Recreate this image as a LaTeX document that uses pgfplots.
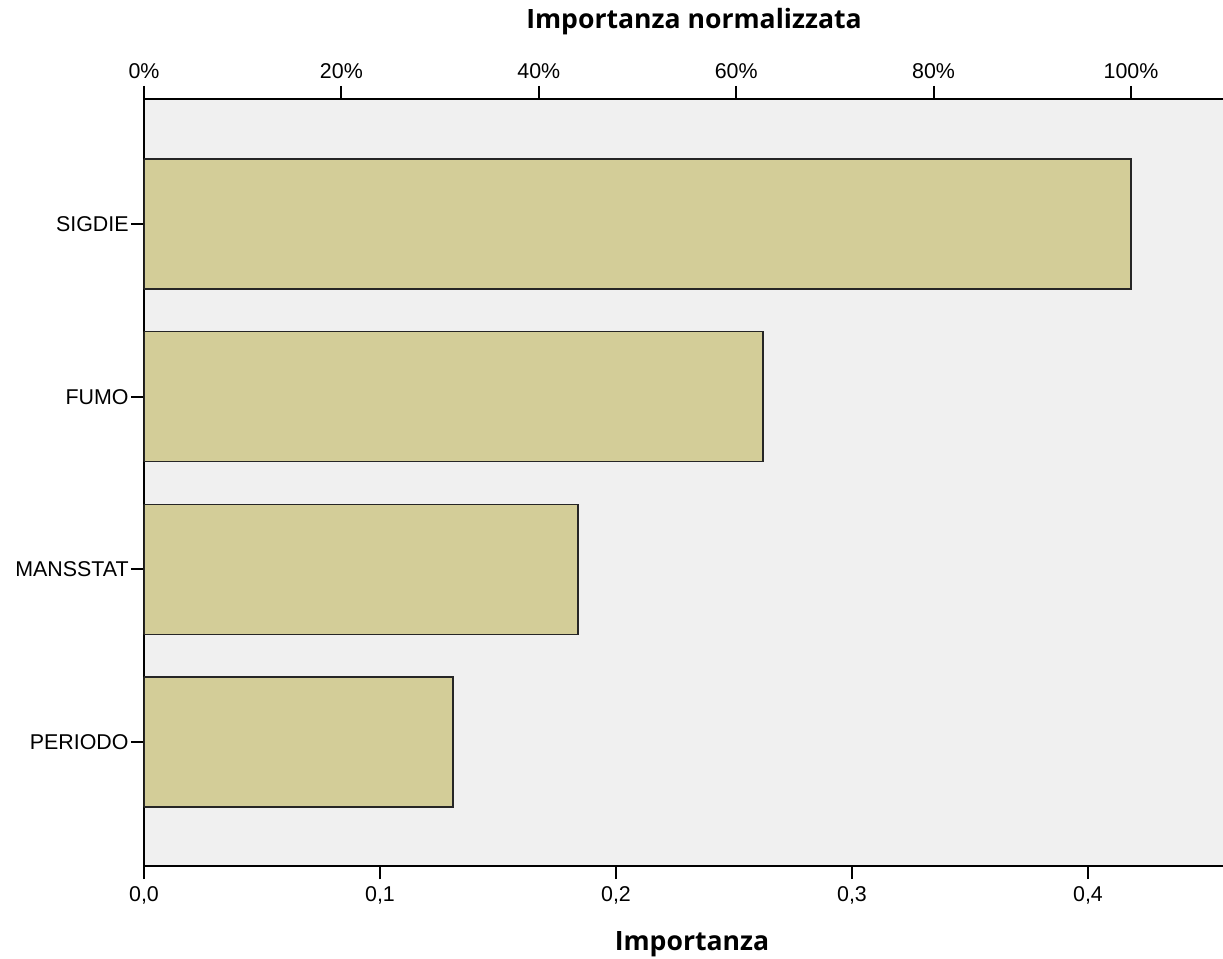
\documentclass[border=0pt]{standalone}
\usepackage{pgfplots}
\pgfplotsset{compat=1.18}
\usepackage{fontspec}
\setmainfont{Liberation Sans}
\newfontfamily\titlefont{Open Sans}
\definecolor{barfill}{HTML}{D3CD98}
\definecolor{plotbg}{HTML}{F0F0F0}

\begin{document}
\begin{tikzpicture}
\useasboundingbox (-72pt,-46.5pt) rectangle (539.5pt,433pt);
% main axis: Importanza (bottom)
\begin{axis}[
  scale only axis, width=539.5pt, height=383.5pt,
  at={(0pt,0pt)}, anchor=south west,
  xmin=0, xmax=0.4572,
  ymin=-0.724, ymax=3.718, y dir=reverse,
  axis background/.style={fill=plotbg},
  axis x line*=bottom, axis y line*=left,
  axis line style={-, line width=1pt, black},
  xtick={0,0.1,0.2,0.3,0.4},
  ytick={0,1,2,3},
  yticklabels={SIGDIE,FUMO,MANSSTAT,PERIODO},
  tick align=outside, major tick length=6.5pt,
  tick style={line width=1pt, black},
  ticklabel style={font=\fontsize{10.7}{12}\selectfont},
  yticklabel style={inner sep=1pt},
  xbar, bar width=65pt,
  /pgf/number format/.cd, use comma, fixed, fixed zerofill, precision=1, assume math mode=true,
]
\addplot[fill=barfill, draw=black!85, line width=0.8pt]
  coordinates {(0.4182,0) (0.2623,1) (0.1839,2) (0.1309,3)};
\end{axis}
% top axis: Importanza normalizzata
\begin{axis}[
  scale only axis, width=539.5pt, height=383.5pt,
  at={(0pt,0pt)}, anchor=south west,
  xmin=0, xmax=109.32, ymin=0, ymax=1,
  axis x line*=top, axis y line=none,
  axis line style={-, line width=1pt, black},
  xtick={0,20,40,60,80,100},
  xticklabel={\pgfmathprintnumber{\tick}\%},
  tick align=outside, major tick length=6.5pt,
  tick style={line width=1pt, black},
  ticklabel style={font=\fontsize{10.7}{12}\selectfont},
  /pgf/number format/.cd, fixed, precision=0, assume math mode=true,
]
\addplot[draw=none] coordinates {(0,0)};
\end{axis}
\node[anchor=base, font=\titlefont\bfseries\fontsize{13.3}{15}\selectfont] at (275pt,418.5pt) {Importanza normalizzata};
\node[anchor=base, font=\titlefont\bfseries\fontsize{13.3}{15}\selectfont] at (274pt,-42.5pt) {Importanza};
\end{tikzpicture}
\end{document}
